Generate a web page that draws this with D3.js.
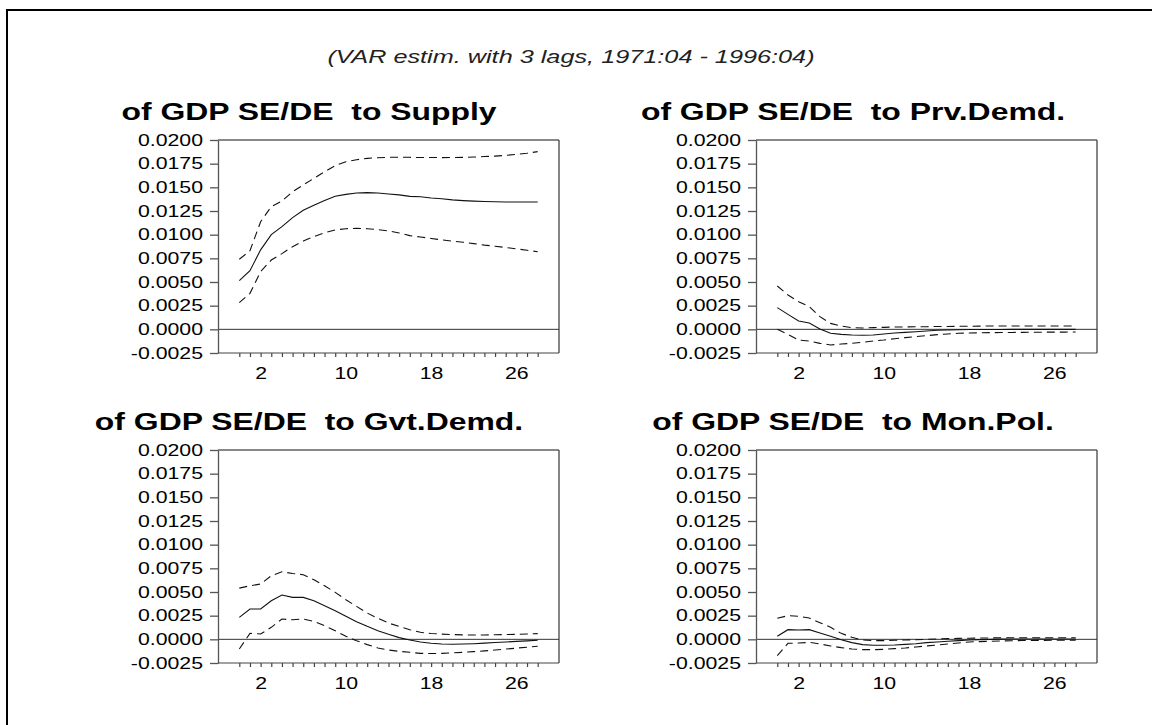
<!DOCTYPE html>
<html>
<head>
<meta charset="utf-8">
<script src="https://cdn.jsdelivr.net/npm/d3@7/dist/d3.min.js"></script>
<style>
  body { margin: 0; background: #fff; }
  svg { display: block; font-family: "Liberation Sans", Arial, sans-serif; }
</style>
</head>
<body>
<svg></svg>
<script>
// impulse responses, periods 0..28
var periods = d3.range(0, 29);
var xTickLabels = [2, 10, 18, 26];
var yTicks = [-0.0025, 0, 0.0025, 0.005, 0.0075, 0.01, 0.0125, 0.015, 0.0175, 0.02];

var subtitle = "(VAR estim. with 3 lags, 1971:04 - 1996:04)";
var titles = ["of GDP SE/DE  to Supply", "of GDP SE/DE  to Prv.Demd.",
              "of GDP SE/DE  to Gvt.Demd.", "of GDP SE/DE  to Mon.Pol."];

var supplyMid = [0.00514, 0.0062, 0.0084, 0.0100, 0.01085, 0.0118, 0.01257, 0.0131, 0.0136, 0.01405, 0.01426, 0.0144, 0.01444, 0.0144, 0.0143, 0.0142, 0.01405, 0.0140, 0.01388, 0.0138, 0.01368, 0.0136, 0.01354, 0.0135, 0.01347, 0.01345, 0.01345, 0.01345, 0.01345];
var supplyUp = [0.0074, 0.0083, 0.01137, 0.01296, 0.01356, 0.01454, 0.01525, 0.01595, 0.01665, 0.01729, 0.01771, 0.01792, 0.01806, 0.01813, 0.01817, 0.01817, 0.01817, 0.01815, 0.01815, 0.01814, 0.01815, 0.01817, 0.0182, 0.01825, 0.0183, 0.01838, 0.01848, 0.0186, 0.01877];
var supplyLo = [0.00282, 0.0038, 0.0061, 0.00732, 0.0080, 0.00873, 0.00933, 0.0098, 0.0102, 0.0105, 0.01063, 0.01067, 0.01063, 0.01053, 0.01039, 0.01018, 0.0099, 0.00975, 0.0096, 0.00945, 0.00932, 0.0092, 0.00905, 0.0089, 0.00878, 0.00865, 0.0085, 0.00835, 0.0082];

var prvMid = [0.00229, 0.00158, 0.00088, 0.00067, 0.00004, -0.00042, -0.00053, -0.0006, -0.00063, -0.0006, -0.0005, -0.00039, -0.00032, -0.00025, -0.00018, -0.0001, -0.00007, -0.00004, -0.00002, -0.00002, -0.00001, -0.00001, 0, 0, 0, 0, 0, 0, 0];
var prvUp = [0.00458, 0.00363, 0.00292, 0.0024, 0.00134, 0.00063, 0.00035, 0.00018, 0.00014, 0.00018, 0.00021, 0.00025, 0.00025, 0.00028, 0.00028, 0.0003, 0.0003, 0.00032, 0.00033, 0.00034, 0.00035, 0.00035, 0.00036, 0.00036, 0.00036, 0.00036, 0.00036, 0.00036, 0.00036];
var prvLo = [0.0, -0.00053, -0.00113, -0.00123, -0.00148, -0.00165, -0.00155, -0.00148, -0.00137, -0.00123, -0.00113, -0.00099, -0.00088, -0.00077, -0.00067, -0.00056, -0.00049, -0.00042, -0.00039, -0.00037, -0.00035, -0.00034, -0.00033, -0.00032, -0.00031, -0.0003, -0.0003, -0.00029, -0.00028];

var gvtMid = [0.00232, 0.0032, 0.0032, 0.00408, 0.00468, 0.00443, 0.00443, 0.00408, 0.00355, 0.00302, 0.00243, 0.00186, 0.00137, 0.00091, 0.00053, 0.00018, -0.00007, -0.00028, -0.00042, -0.0005, -0.00052, -0.0005, -0.00046, -0.0004, -0.00034, -0.00028, -0.00022, -0.00016, -0.0001];
var gvtUp = [0.00541, 0.00566, 0.00584, 0.00672, 0.00714, 0.00696, 0.00682, 0.0063, 0.00566, 0.00496, 0.00418, 0.00348, 0.00278, 0.00222, 0.00172, 0.00137, 0.00102, 0.00074, 0.00062, 0.00055, 0.0005, 0.00047, 0.00046, 0.00046, 0.00048, 0.0005, 0.00053, 0.00057, 0.0006];
var gvtLo = [-0.00102, 0.00063, 0.00056, 0.00127, 0.00214, 0.00207, 0.00214, 0.0019, 0.00144, 0.00091, 0.00032, -0.00014, -0.00056, -0.00091, -0.00113, -0.00127, -0.00137, -0.00148, -0.0015, -0.00148, -0.00143, -0.00137, -0.0013, -0.00122, -0.00113, -0.00103, -0.00093, -0.00083, -0.00073];

var monMid = [0.00032, 0.00102, 0.00098, 0.00102, 0.00067, 0.00032, -0.00004, -0.00035, -0.00056, -0.00063, -0.00063, -0.0006, -0.00053, -0.00046, -0.00035, -0.00028, -0.00021, -0.00014, -0.00007, -0.00003, 0, 0.00002, 0.00003, 0.00003, 0.00003, 0.00003, 0.00003, 0.00003, 0.00003];
var monUp = [0.00222, 0.0025, 0.00243, 0.00225, 0.00176, 0.00127, 0.00063, 0.00021, -0.00007, -0.00014, -0.00014, -0.0001, -0.00007, -0.00004, 0, 0.00004, 0.00008, 0.0001, 0.00012, 0.00014, 0.00015, 0.00016, 0.00016, 0.00017, 0.00017, 0.00017, 0.00017, 0.00017, 0.00017];
var monLo = [-0.00172, -0.00042, -0.00039, -0.00032, -0.00049, -0.0007, -0.00088, -0.00102, -0.00109, -0.00109, -0.00106, -0.00098, -0.00091, -0.00081, -0.0007, -0.0006, -0.00049, -0.00039, -0.00028, -0.00024, -0.0002, -0.00017, -0.00015, -0.00013, -0.00012, -0.00011, -0.0001, -0.0001, -0.0001];

var svgWidth = 1152, svgHeight = 725;
var plotW = 341, plotH = 213;
var sx = 1.33; // the original text is drawn wide
var panels = [
  { left: 218, top: 140, mid: supplyMid, up: supplyUp, lo: supplyLo, tx: 309 },
  { left: 756, top: 140, mid: prvMid, up: prvUp, lo: prvLo, tx: 853 },
  { left: 218, top: 450, mid: gvtMid, up: gvtUp, lo: gvtLo, tx: 309 },
  { left: 756, top: 450, mid: monMid, up: monUp, lo: monLo, tx: 853 }
];

var svg = d3.select("svg")
    .attr("width", svgWidth)
    .attr("height", svgHeight);

// outer frame (only left and top show)
svg.append("path")
    .attr("d", "M7," + svgHeight + "V10H" + svgWidth)
    .attr("fill", "none")
    .attr("stroke", "#000")
    .attr("stroke-width", 2);

svg.append("text")
    .attr("transform", "translate(571,63) scale(" + sx + ",1)")
    .attr("text-anchor", "middle")
    .style("font-size", "19px")
    .style("font-style", "italic")
    .attr("fill", "#222")
    .text(subtitle);

var xScale = d3.scaleLinear().domain([-2, 30]).range([0, plotW]);
var yScale = d3.scaleLinear().domain([-0.0025, 0.02]).range([plotH, 0]);
var fmt = d3.format(".4f");

panels.forEach(function (p, k) {
    var g = svg.append("g").attr("transform", "translate(" + p.left + "," + p.top + ")");

    svg.append("text")
        .attr("transform", "translate(" + p.tx + "," + (p.top - 20) + ") scale(" + sx + ",1)")
        .attr("text-anchor", "middle")
        .style("font-size", "24px")
        .style("font-weight", "bold")
        .style("white-space", "pre")
        .attr("fill", "#000")
        .text(titles[k]);

    // box
    g.append("line").attr("x1", 0).attr("x2", plotW).attr("y1", 0).attr("y2", 0)
        .attr("stroke", "#888").attr("stroke-width", 2);
    g.append("line").attr("x1", plotW).attr("x2", plotW).attr("y1", 0).attr("y2", plotH)
        .attr("stroke", "#444").attr("stroke-width", 1.3);

    // zero line
    g.append("line")
        .attr("x1", 0).attr("x2", plotW)
        .attr("y1", yScale(0)).attr("y2", yScale(0))
        .attr("stroke", "#333").attr("stroke-width", 1);

    var yAxis = g.append("g")
        .call(d3.axisLeft(yScale).tickValues(yTicks).tickSize(8).tickSizeOuter(0)
            .tickFormat(function (d) { return fmt(d).replace("\u2212", "-"); }));
    yAxis.selectAll("path, line").attr("stroke", "#555").attr("stroke-width", 1.3);
    yAxis.selectAll("text")
        .attr("x", -15 / sx)
        .attr("transform", "scale(" + sx + ",1)")
        .attr("fill", "#000")
        .style("font-size", "16px")
        .style("font-family", "'Liberation Sans', Arial, sans-serif");

    var xAxis = g.append("g")
        .attr("transform", "translate(0," + plotH + ")")
        .call(d3.axisBottom(xScale).tickValues(periods).tickSize(4).tickSizeOuter(0)
            .tickFormat(function (d) { return xTickLabels.indexOf(d) >= 0 ? d : ""; }));
    xAxis.select(".domain").attr("d", "M0,0H" + plotW);
    xAxis.selectAll("path, line").attr("stroke", "#444").attr("stroke-width", 1.2);
    xAxis.selectAll("text")
        .attr("y", 26).attr("dy", null)
        .attr("transform", "scale(" + sx + ",1)")
        .attr("fill", "#000")
        .style("font-size", "16px")
        .style("font-family", "'Liberation Sans', Arial, sans-serif");

    var line = d3.line()
        .x(function (d, i) { return xScale(periods[i]); })
        .y(function (d) { return yScale(d); });

    g.append("path").attr("d", line(p.up)).attr("fill", "none")
        .attr("stroke", "#111").attr("stroke-width", 1.1).attr("stroke-dasharray", "8,5");
    g.append("path").attr("d", line(p.lo)).attr("fill", "none")
        .attr("stroke", "#111").attr("stroke-width", 1.1).attr("stroke-dasharray", "8,5");
    g.append("path").attr("d", line(p.mid)).attr("fill", "none")
        .attr("stroke", "#111").attr("stroke-width", 1.1);
});
</script>
</body>
</html>
